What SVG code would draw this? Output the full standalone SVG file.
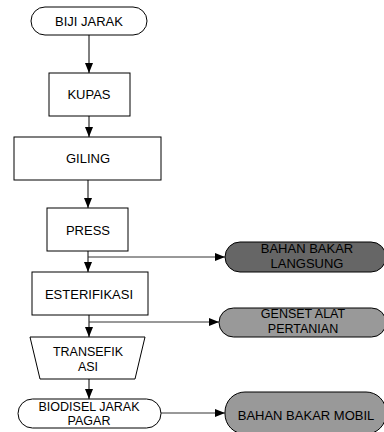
<svg xmlns="http://www.w3.org/2000/svg" width="384" height="432" viewBox="0 0 384 432">
<defs>
<marker id="ah" markerWidth="10" markerHeight="8" refX="10" refY="4" orient="auto" markerUnits="userSpaceOnUse">
<path d="M0,0 L10,4 L0,8 Z" fill="#000"/>
</marker>
<style>
.n{fill:#fff;stroke:#000;stroke-width:1}
.d{fill:#666;stroke:#000;stroke-width:1}
.g{fill:#999;stroke:#000;stroke-width:1}
text{font-family:"Liberation Sans",Arial,sans-serif;font-size:13px;fill:#000;text-anchor:middle}
.m{font-size:12.5px}
.c{stroke:#000;stroke-width:1;fill:none}
.b{stroke:#333;stroke-width:1;fill:none}
</style>
</defs>
<g id="connectors">
<line class="c" x1="89" y1="35" x2="89" y2="73" marker-end="url(#ah)"/>
<line class="c" x1="89" y1="116" x2="89" y2="137" marker-end="url(#ah)"/>
<line class="c" x1="88" y1="180" x2="88" y2="208" marker-end="url(#ah)"/>
<line class="c" x1="88" y1="251" x2="88" y2="272" marker-end="url(#ah)"/>
<line class="b" x1="88" y1="257" x2="225" y2="257" marker-end="url(#ah)"/>
<line class="c" x1="89" y1="315" x2="89" y2="337" marker-end="url(#ah)"/>
<line class="b" x1="89" y1="322" x2="219" y2="322" marker-end="url(#ah)"/>
<line class="c" x1="89" y1="379" x2="89" y2="399" marker-end="url(#ah)"/>
<line class="b" x1="161" y1="413" x2="225" y2="413" marker-end="url(#ah)"/>
</g>
<g id="biji"><rect class="n" x="31" y="7" width="116" height="28" rx="14"/><text x="89" y="26">BIJI JARAK</text></g>
<g id="kupas"><rect class="n" x="49" y="73" width="81" height="43"/><text x="89" y="99">KUPAS</text></g>
<g id="giling"><rect class="n" x="14" y="137" width="147" height="43"/><text x="88" y="163">GILING</text></g>
<g id="press"><rect class="n" x="47" y="208" width="81" height="43"/><text x="88" y="235">PRESS</text></g>
<g id="esterifikasi"><rect class="n" x="32" y="272" width="116" height="43"/><text x="89" y="299">ESTERIFIKASI</text></g>
<g id="transefikasi"><polygon class="n" points="30,337 145,337 135,379 40,379"/><text class="m" x="88" y="356">TRANSEFIK</text><text class="m" x="88" y="370.5">ASI</text></g>
<g id="biodisel"><rect class="n" x="18" y="399" width="143" height="29" rx="14.5"/><text class="m" x="89" y="410.5">BIODISEL JARAK</text><text class="m" x="89" y="425">PAGAR</text></g>
<g id="langsung"><rect class="d" x="225" y="242" width="161" height="30" rx="15"/><text x="307" y="253">BAHAN BAKAR</text><text x="307" y="268">LANGSUNG</text></g>
<g id="genset"><rect class="g" x="219" y="308" width="167" height="29" rx="14.5"/><text class="m" x="303" y="318">GENSET ALAT</text><text class="m" x="303" y="332.5">PERTANIAN</text></g>
<g id="mobil"><rect class="g" x="225" y="392" width="161" height="42" rx="20"/><text x="306" y="420">BAHAN BAKAR MOBIL</text></g>
</svg>
